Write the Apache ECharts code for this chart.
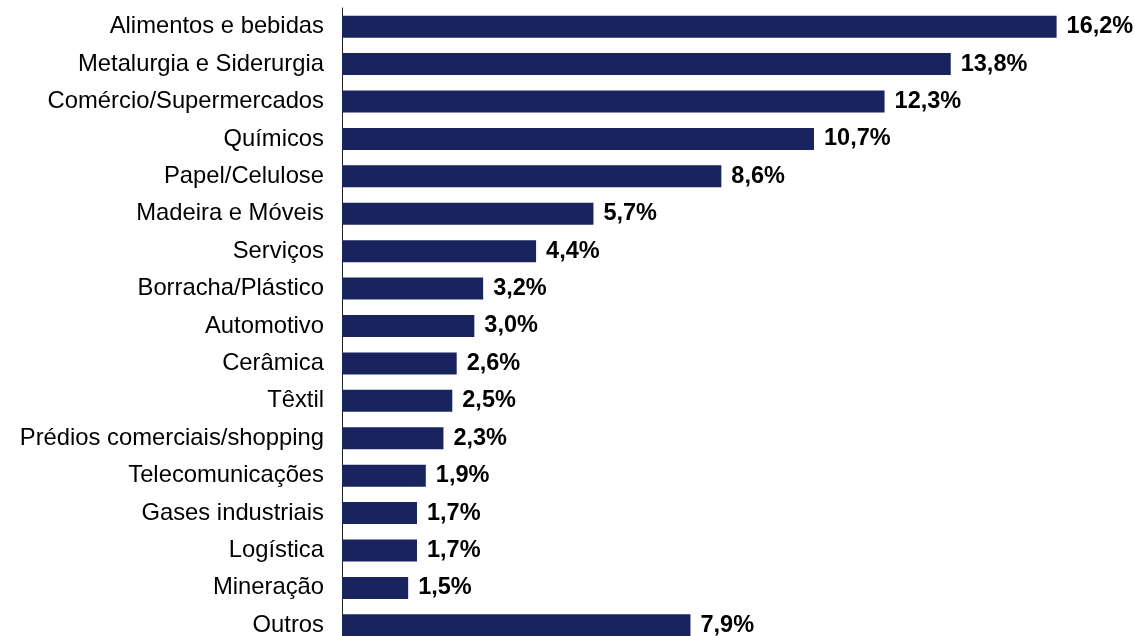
<!DOCTYPE html>
<html><head><meta charset="utf-8">
<script src="https://cdn.jsdelivr.net/npm/echarts@6/dist/echarts.min.js"></script>
<style>html,body{margin:0;padding:0;background:#fff}#c{width:1135px;height:636px}</style>
</head><body><div id="c"></div>
<script>
const categories = ["Alimentos e bebidas","Metalurgia e Siderurgia","Comércio/Supermercados","Químicos","Papel/Celulose","Madeira e Móveis","Serviços","Borracha/Plástico","Automotivo","Cerâmica","Têxtil","Prédios comerciais/shopping","Telecomunicações","Gases industriais","Logística","Mineração","Outros"];
const values = [16.2,13.8,12.3,10.7,8.6,5.7,4.4,3.2,3.0,2.6,2.5,2.3,1.9,1.7,1.7,1.5,7.9];
const chart = echarts.init(document.getElementById('c'));
chart.setOption({
  animation:false,
  grid:{left:342, top:8, width:794, height:636, containLabel:false, outerBoundsMode:'none'},
  xAxis:{type:'value', min:0, max:18, show:false},
  yAxis:{type:'category', data:categories, inverse:true,
    axisLine:{show:true, lineStyle:{color:'#222', width:1}},
    axisTick:{show:false},
    axisLabel:{color:'#000', fontSize:23.8, fontFamily:'Liberation Sans, Arial', margin:18}},
  series:[{type:'bar', data:values, barWidth:22,
    itemStyle:{color:'#19235E'},
    label:{show:true, position:'right', distance:10, color:'#000', fontSize:23.5, fontWeight:'bold', fontFamily:'Liberation Sans, Arial',
      formatter:p=>p.value.toFixed(1).replace('.',',')+'%'}}]
});
</script></body></html>
